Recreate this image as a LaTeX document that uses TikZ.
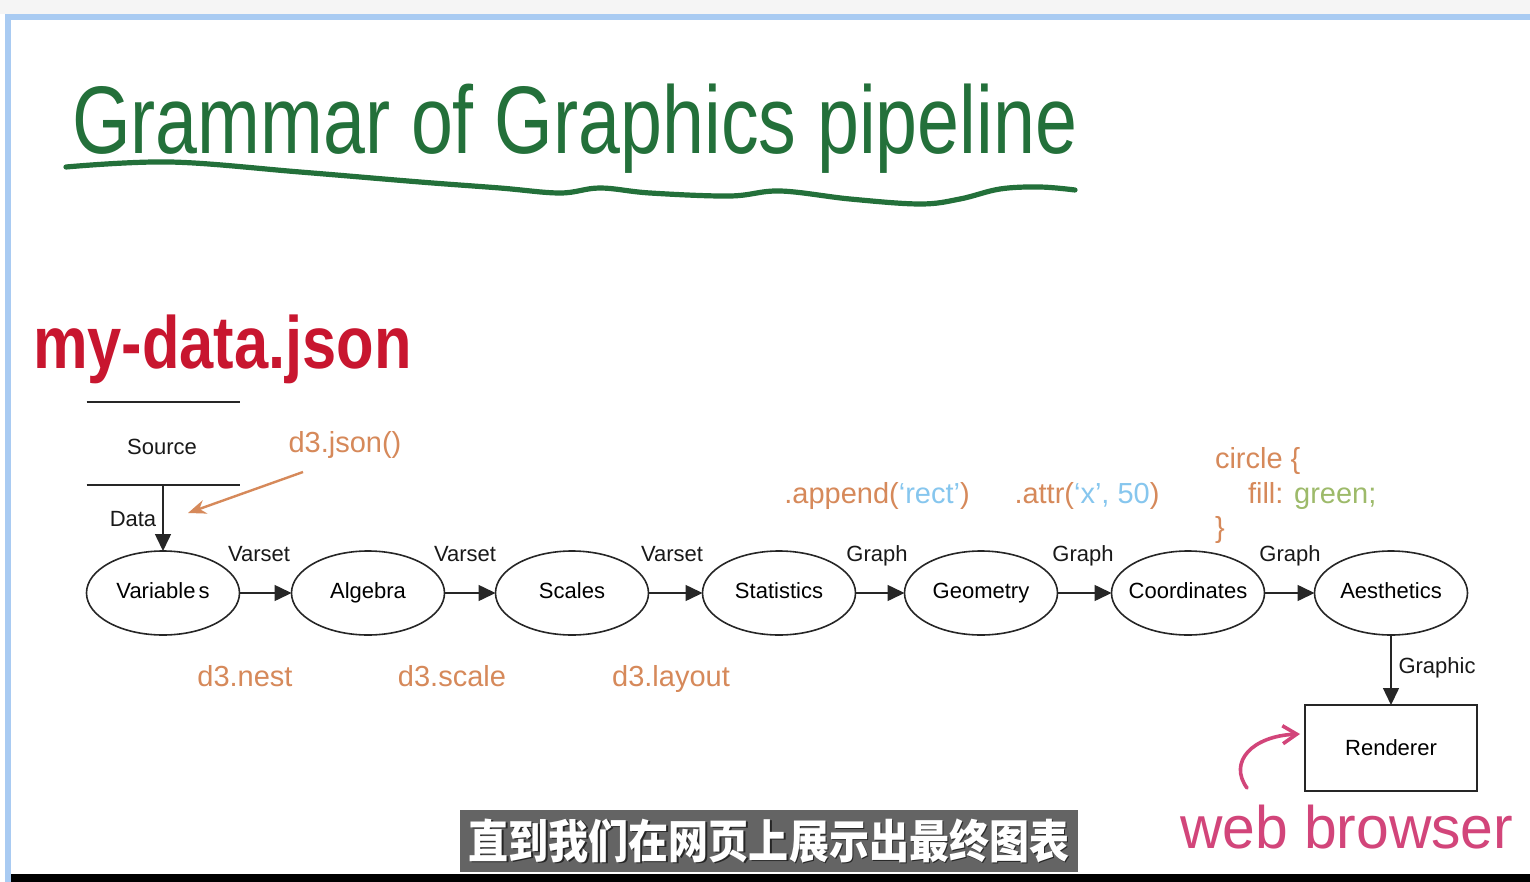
\documentclass[tikz,border=0pt]{standalone}
\usepackage{fontspec}
\setmainfont{Liberation Sans}
\newfontfamily\cjk{Noto Sans CJK SC}
\usetikzlibrary{shapes.geometric,arrows.meta}
\definecolor{ttl}{HTML}{23703A}
\definecolor{jsonred}{HTML}{C8162F}
\definecolor{pinkhand}{HTML}{D2457A}
\definecolor{orng}{HTML}{D6895A}
\definecolor{lblue}{HTML}{86C6EE}
\definecolor{lgreen}{HTML}{9DBA6A}
\definecolor{frameblue}{HTML}{A9CBF2}
\definecolor{subbg}{HTML}{646464}
\begin{document}
\begin{tikzpicture}[x=0.5pt,y=-0.5pt,
  every node/.style={inner sep=0pt, outer sep=0pt},
  stage/.style={ellipse, draw=black!85, line width=0.8pt, minimum width=76.5pt, minimum height=42pt, text height=8pt, text depth=2.4pt, font=\fontsize{11}{13}\selectfont},
  rendbox/.style={rectangle, draw=black!85, line width=0.8pt, minimum width=86pt, minimum height=43pt, font=\fontsize{11}{13}\selectfont},
  flow/.style={draw=black!85, line width=0.75pt, -{Triangle[length=8.5pt,width=8pt]}},
  lab/.style={font=\fontsize{11}{13}\selectfont, text=black!90, anchor=base},
  code/.style={font=\fontsize{14.5}{17}\selectfont, text=orng, anchor=base},
]
\useasboundingbox (0,0) rectangle (1530,882);
\fill[white] (0,0) rectangle (1530,882);
\fill[black!4] (0,0) rectangle (1530,14);
\fill[frameblue] (5,14) rectangle (1530,20);
\fill[frameblue] (5,14) rectangle (11,882);
\fill[black] (11,874) rectangle (1530,882);

% title
\node[text=ttl, font=\fontsize{48}{52}\selectfont, anchor=base west] (title) at (72,154) {\scalebox{0.785}[1]{Grammar of Graphics pipeline}};
\draw[ttl, line width=2.6pt, line cap=round, line join=round] plot[smooth, tension=0.6] coordinates {(66,167) (170,162) (300,172) (420,182) (500,188) (560,193) (600,188) (650,193) (730,196) (780,191) (850,199) (920,204) (960,199) (1000,189) (1040,187) (1075,190)};

% my-data.json
\node[text=jsonred, font=\bfseries\fontsize{37}{40}\selectfont, anchor=base west] (myjson) at (33,368) {\scalebox{0.83}[1]{my-data.json}};

% source
\node[minimum width=76.5pt, minimum height=41.5pt] (source) at (163,443.5) {};
\node[lab] (sourcelab) at (162,454) {Source};
\draw[black!85, line width=0.8pt] (source.north west) -- (source.north east);
\draw[black!85, line width=0.8pt] (source.south west) -- (source.south east);

% stages
\node[stage] (variables) at (163,593) {Variable\hspace{1.5pt}s};
\node[stage] (algebra) at (368,593) {Algebra};
\node[stage] (scales) at (572,593) {Scales};
\node[stage] (statistics) at (779,593) {Statistics};
\node[stage] (geometry) at (981,593) {Geometry};
\node[stage] (coordinates) at (1188,593) {\makebox[50pt]{Coordinates}};
\node[stage] (aesthetics) at (1391,593) {Aesthetics};
\node[rendbox] (renderer) at (1391,748) {Renderer};

\draw[flow] (source.south) -- (variables.north);
\draw[flow] (variables) -- (algebra);
\draw[flow] (algebra) -- (scales);
\draw[flow] (scales) -- (statistics);
\draw[flow] (statistics) -- (geometry);
\draw[flow] (geometry) -- (coordinates);
\draw[flow] (coordinates) -- (aesthetics);
\draw[flow] (aesthetics) -- (renderer);

% black labels
\node[lab] (ldata) at (133,526) {Data};
\node[lab] (lv1) at (259,561) {Varset};
\node[lab] (lv2) at (465,561) {Varset};
\node[lab] (lv3) at (672,561) {Varset};
\node[lab] (lg1) at (877,561) {Graph};
\node[lab] (lg2) at (1083,561) {Graph};
\node[lab] (lg3) at (1290,561) {Graph};
\node[lab] (lgraphic) at (1437,673) {Graphic};

% orange code labels
\node[code] (d3json) at (345,452) {d3.json()};
\coordinate (jsonstart) at (303,472);
\coordinate (jsonend) at (188,513);
\draw[orng, line width=1.2pt, -{Stealth[length=9pt,width=7pt]}] (jsonstart) -- (jsonend);
\node[code] (d3nest) at (245,686) {d3.nest};
\node[code] (d3scale) at (452,686) {d3.scale};
\node[code] (d3layout) at (671,686) {d3.layout};
\node[code] (append) at (877,503) {.append(\textcolor{lblue}{‘rect’})};
\node[code] (attr) at (1087,503) {.attr(\textcolor{lblue}{‘x’, 50})};
\node[code, anchor=base west] (circle) at (1215,468) {circle \{};
\node[code, anchor=base west] (fill) at (1248,503) {fill: \textcolor{lgreen}{green;}};
\node[code, anchor=base west] (brace) at (1215,537) {\}};

% web browser
\node[text=pinkhand, font=\fontsize{30}{33}\selectfont, anchor=base west] (web) at (1180,848) {\scalebox{0.98}[1]{web browser}};
\coordinate (pinkstart) at (1247,788);
\coordinate (pinkend) at (1300,734);
\draw[pinkhand, line width=1.8pt, line cap=round, -{Straight Barb[length=7pt,width=9pt]}] (pinkstart) .. controls (1228,762) and (1252,736) .. (pinkend);

% subtitle
\fill[subbg] (460,810) rectangle (1078,872);
\node[text=black!85, font=\cjk\bfseries\fontsize{23}{26}\selectfont] (subshadow) at (770.5,842.5) {\scalebox{0.87}[1]{直到我们在网页上展示出最终图表}};
\node[text=white, font=\cjk\bfseries\fontsize{23}{26}\selectfont] (subtitle) at (769,841) {\scalebox{0.87}[1]{直到我们在网页上展示出最终图表}};
\end{tikzpicture}
\end{document}
